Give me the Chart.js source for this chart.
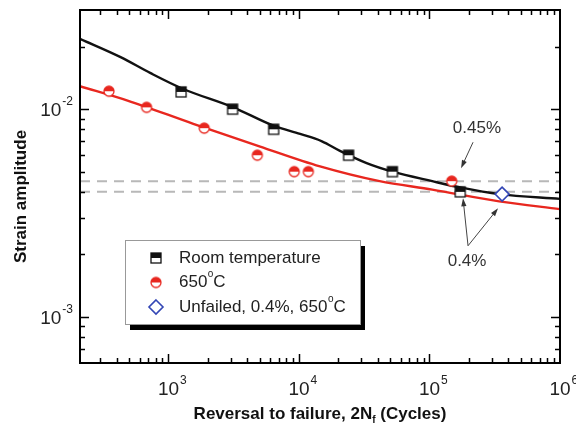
<!DOCTYPE html>
<html>
<head>
<meta charset="utf-8">
<title>Strain amplitude vs reversals to failure</title>
<script src="https://cdn.jsdelivr.net/npm/chart.js@4.4.1/dist/chart.umd.min.js"></script>
<style>
  body { margin: 0; background: #fff; }
  canvas { display: block; }
</style>
</head>
<body>
<canvas id="fatigue" width="576" height="435"></canvas>
<script>
// measured points
const rtCycles = [1250, 3100, 6400, 24000, 52000, 172000];
const rtStrain = [0.0121, 0.0100, 0.0080, 0.0060, 0.0050, 0.0040];
const hotCycles = [350, 680, 1880, 4800, 9200, 11800, 148000];
const hotStrain = [0.0122, 0.0102, 0.0081, 0.0060, 0.0050, 0.0050, 0.0045];
const unfailedCycles = [360000];
const unfailedStrain = [0.0039];

// fitted curves
const rtFitCycles = [210, 430, 730, 1300, 3130, 6450, 10200, 15000, 20600, 33000, 52200, 105000, 172000, 342000, 1000000];
const rtFitStrain = [0.0218, 0.0178, 0.0149, 0.0125, 0.0102, 0.0083, 0.0076, 0.0070, 0.0063, 0.0055, 0.0050, 0.0045, 0.0042, 0.0039, 0.0037];
const hotFitCycles = [210, 486, 1550, 5040, 14500, 41500, 105000, 342000, 1000000];
const hotFitStrain = [0.0129, 0.0110, 0.0085, 0.0066, 0.0053, 0.0045, 0.0041, 0.0036, 0.0033];

// reference strain levels (dashed)
const levelStrain = [0.0045, 0.004];

const xMin = 210, xMax = 1e6;
const yMin = 0.0006, yMax = 0.03;
const xDecades = [3, 4, 5, 6];
const yDecades = [-3, -2];

const FONT = '"Liberation Sans", Arial, sans-serif';

function pairs(xs, ys) {
  return xs.map(function (x, i) { return { x: x, y: ys[i] }; });
}

// half filled markers: top half solid, bottom half hollow
function halfMarker(shape, color) {
  var s = 14, c = document.createElement('canvas');
  c.width = s; c.height = s;
  var g = c.getContext('2d'), m = s / 2, r = 5;
  g.lineWidth = 1.3;
  g.strokeStyle = color;
  if (shape === 'square') {
    g.fillStyle = '#fff';
    g.fillRect(m - r, m - r, 2 * r, 2 * r);
    g.fillStyle = color;
    g.fillRect(m - r, m - r, 2 * r, r);
    g.strokeRect(m - r, m - r, 2 * r, 2 * r);
  } else {
    g.beginPath(); g.arc(m, m, r, 0, Math.PI * 2);
    g.fillStyle = '#fff'; g.fill();
    g.beginPath(); g.arc(m, m, r, Math.PI, Math.PI * 2); g.closePath();
    g.fillStyle = color; g.fill();
    g.beginPath(); g.arc(m, m, r, 0, Math.PI * 2); g.stroke();
  }
  return c;
}

const squareImg = halfMarker('square', '#111');
const circleImg = halfMarker('circle', '#e8271f');

// annotation texts and arrows, in data coordinates
const notes = [
  { text: '0.45%', x: 231000, y: 0.0081 },
  { text: '0.4%', x: 194000, y: 0.00186 }
];
const arrows = [
  { from: [215700, 0.00693], to: [174500, 0.0052] },
  { from: [197400, 0.0022], to: [180700, 0.00372] },
  { from: [197400, 0.0022], to: [335200, 0.00333] }
];

const legendItems = [
  { label: 'Room temperature', mark: 'square' },
  { label: '650', deg: 'C', mark: 'circle' },
  { label: 'Unfailed, 0.4%, 650', deg: 'C', mark: 'diamond' }
];

function minorTicks(lo, hi) {
  var out = [];
  for (var e = Math.floor(Math.log10(lo)); e <= Math.ceil(Math.log10(hi)); e++) {
    for (var k = 1; k < 10; k++) {
      var v = k * Math.pow(10, e);
      if (v > lo * 1.0001 && v < hi * 0.9999) out.push({ v: v, major: k === 1 });
    }
  }
  return out;
}

function drawPow(ctx, x, y, exp, align) {
  // "10" with superscript exponent
  ctx.font = '19px ' + FONT;
  var w10 = ctx.measureText('10').width;
  ctx.font = '12px ' + FONT;
  var we = ctx.measureText(exp).width;
  var left = align === 'right' ? x - w10 - we : x - w10 / 2;
  ctx.textAlign = 'left';
  ctx.textBaseline = 'middle';
  ctx.font = '19px ' + FONT;
  ctx.fillText('10', left, y);
  ctx.font = '12px ' + FONT;
  ctx.fillText(exp, left + w10 + 1, y - 9);
}

function arrow(ctx, x1, y1, x2, y2) {
  var a = Math.atan2(y2 - y1, x2 - x1), L = 8, W = 2.6;
  ctx.beginPath(); ctx.moveTo(x1, y1); ctx.lineTo(x2 - Math.cos(a) * 4, y2 - Math.sin(a) * 4); ctx.stroke();
  ctx.beginPath();
  ctx.moveTo(x2, y2);
  ctx.lineTo(x2 - L * Math.cos(a) + W * Math.sin(a), y2 - L * Math.sin(a) - W * Math.cos(a));
  ctx.lineTo(x2 - L * Math.cos(a) - W * Math.sin(a), y2 - L * Math.sin(a) + W * Math.cos(a));
  ctx.closePath(); ctx.fill();
}

const decorations = {
  id: 'decorations',
  afterDatasetsDraw: function (chart) {
    var ctx = chart.ctx, a = chart.chartArea;
    var xs = chart.scales.x, ys = chart.scales.y;
    ctx.save();

    // annotations
    ctx.fillStyle = '#333';
    ctx.strokeStyle = '#444';
    ctx.lineWidth = 1;
    arrows.forEach(function (ar) {
      arrow(ctx, xs.getPixelForValue(ar.from[0]), ys.getPixelForValue(ar.from[1]),
                 xs.getPixelForValue(ar.to[0]), ys.getPixelForValue(ar.to[1]));
    });
    ctx.font = '17px ' + FONT;
    ctx.textAlign = 'center';
    ctx.textBaseline = 'middle';
    notes.forEach(function (n) {
      ctx.fillText(n.text, xs.getPixelForValue(n.x), ys.getPixelForValue(n.y));
    });

    // frame
    ctx.strokeStyle = '#000';
    ctx.lineWidth = 2;
    ctx.strokeRect(a.left, a.top, a.right - a.left, a.bottom - a.top);

    // inward ticks on all sides
    ctx.lineWidth = 1.5;
    ctx.beginPath();
    minorTicks(xMin, xMax).forEach(function (t) {
      var px = Math.round(xs.getPixelForValue(t.v)) + 0.5, len = t.major ? 9 : 5;
      ctx.moveTo(px, a.bottom); ctx.lineTo(px, a.bottom - len);
      ctx.moveTo(px, a.top); ctx.lineTo(px, a.top + len);
    });
    minorTicks(yMin, yMax).forEach(function (t) {
      var py = Math.round(ys.getPixelForValue(t.v)) + 0.5, len = t.major ? 9 : 5;
      ctx.moveTo(a.left, py); ctx.lineTo(a.left + len, py);
      ctx.moveTo(a.right, py); ctx.lineTo(a.right - len, py);
    });
    ctx.stroke();

    // tick labels
    ctx.fillStyle = '#222';
    xDecades.forEach(function (e) {
      drawPow(ctx, xs.getPixelForValue(Math.pow(10, e)), a.bottom + 27, String(e), 'center');
    });
    yDecades.forEach(function (e) {
      drawPow(ctx, a.left - 8, ys.getPixelForValue(Math.pow(10, e)) + 2, String(e), 'right');
    });

    // axis titles
    ctx.fillStyle = '#111';
    ctx.font = 'bold 17px ' + FONT;
    ctx.textBaseline = 'middle';
    var t1 = 'Reversal to failure, 2N', t2 = ' (Cycles)';
    ctx.font = 'bold 17px ' + FONT;
    var w1 = ctx.measureText(t1).width, w2 = ctx.measureText(t2).width;
    ctx.font = 'bold 10px ' + FONT;
    var wf = ctx.measureText('f').width;
    var cx = (a.left + a.right) / 2, ty = 414;
    var start = cx - (w1 + wf + w2) / 2;
    ctx.textAlign = 'left';
    ctx.font = 'bold 17px ' + FONT;
    ctx.fillText(t1, start, ty);
    ctx.fillText(t2, start + w1 + wf, ty);
    ctx.font = 'bold 10px ' + FONT;
    ctx.fillText('f', start + w1, ty + 6);

    ctx.save();
    ctx.translate(21, (a.top + a.bottom) / 2 + 10);
    ctx.rotate(-Math.PI / 2);
    ctx.textAlign = 'center';
    ctx.font = 'bold 17px ' + FONT;
    ctx.fillText('Strain amplitude', 0, 0);
    ctx.restore();

    // legend box with shadow
    var bx = 125, by = 240, bw = 235, bh = 84;
    ctx.fillStyle = '#000';
    ctx.fillRect(bx + 5, by + 6, bw, bh);
    ctx.fillStyle = '#fff';
    ctx.fillRect(bx, by, bw, bh);
    ctx.strokeStyle = '#999';
    ctx.lineWidth = 1;
    ctx.strokeRect(bx + 0.5, by + 0.5, bw, bh);
    legendItems.forEach(function (it, i) {
      var ly = by + 18 + i * 24.5, mx = bx + 31;
      if (it.mark === 'square') {
        ctx.drawImage(squareImg, mx - squareImg.width / 2, ly - squareImg.height / 2);
      } else if (it.mark === 'circle') {
        ctx.drawImage(circleImg, mx - circleImg.width / 2, ly - circleImg.height / 2);
      } else {
        ctx.strokeStyle = '#3346b5'; ctx.lineWidth = 1.6;
        ctx.beginPath();
        ctx.moveTo(mx, ly - 7); ctx.lineTo(mx + 7, ly); ctx.lineTo(mx, ly + 7); ctx.lineTo(mx - 7, ly);
        ctx.closePath(); ctx.stroke();
      }
      ctx.fillStyle = '#222';
      ctx.font = '17px ' + FONT;
      ctx.textAlign = 'left';
      ctx.textBaseline = 'middle';
      var tx = bx + 54;
      ctx.fillText(it.label, tx, ly);
      if (it.deg) {
        var w = ctx.measureText(it.label).width;
        ctx.font = '10px ' + FONT;
        ctx.fillText('o', tx + w + 0.5, ly - 8);
        ctx.font = '17px ' + FONT;
        ctx.fillText(it.deg, tx + w + 6, ly);
      }
    });
    ctx.restore();
  }
};

function levelLine(y) {
  return {
    label: 'level ' + y,
    data: [{ x: xMin, y: y }, { x: xMax, y: y }],
    showLine: true,
    borderColor: '#b8b8b8',
    borderWidth: 2,
    borderDash: [10, 7],
    pointRadius: 0,
    order: 6
  };
}

new Chart(document.getElementById('fatigue'), {
  type: 'scatter',
  data: {
    datasets: [
      { label: 'Room temperature', data: pairs(rtCycles, rtStrain), pointStyle: squareImg, pointRadius: 7, order: 0 },
      { label: '650°C', data: pairs(hotCycles, hotStrain), pointStyle: circleImg, pointRadius: 7, order: 1 },
      { label: 'Unfailed, 0.4%, 650°C', data: pairs(unfailedCycles, unfailedStrain), pointStyle: 'rectRot',
        pointRadius: 7, borderColor: '#3346b5', backgroundColor: '#fff', borderWidth: 1.6, order: 0 },
      { label: 'RT fit', data: pairs(rtFitCycles, rtFitStrain), showLine: true, borderColor: '#111',
        borderWidth: 2.4, pointRadius: 0, cubicInterpolationMode: 'monotone', order: 4 },
      { label: '650 fit', data: pairs(hotFitCycles, hotFitStrain), showLine: true, borderColor: '#e8271f',
        borderWidth: 2.4, pointRadius: 0, cubicInterpolationMode: 'monotone', order: 3 },
      levelLine(levelStrain[0]),
      levelLine(levelStrain[1])
    ]
  },
  options: {
    responsive: false,
    animation: false,
    devicePixelRatio: 1,
    layout: { padding: { left: 80, right: 16, top: 10, bottom: 72 } },
    plugins: { legend: { display: false }, tooltip: { enabled: false } },
    scales: {
      x: { type: 'logarithmic', min: xMin, max: xMax, display: false },
      y: { type: 'logarithmic', min: yMin, max: yMax, display: false }
    }
  },
  plugins: [decorations]
});
</script>
</body>
</html>
